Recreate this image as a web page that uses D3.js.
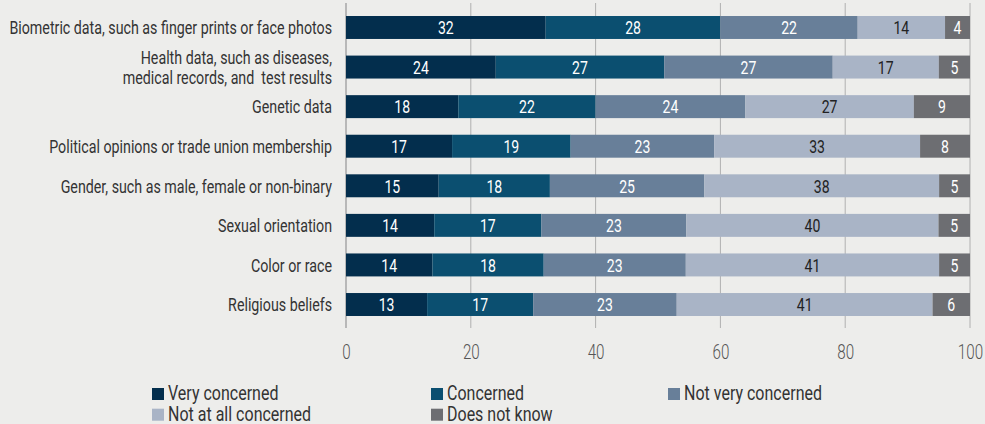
<!DOCTYPE html>
<html><head><meta charset="utf-8">
<script src="https://cdn.jsdelivr.net/npm/d3@7"></script>
<style>
html,body{margin:0;padding:0;background:#ededeb;}
svg{display:block;font-family:Roboto,"DejaVu Sans Condensed",sans-serif;}
</style></head><body>
<svg id="c" width="985" height="424"></svg>
<script>
const categories = [
  "Biometric data, such as finger prints or face photos",
  "Health data, such as diseases,\nmedical records, and  test results",
  "Genetic data",
  "Political opinions or trade union membership",
  "Gender, such as male, female or non-binary",
  "Sexual orientation",
  "Color or race",
  "Religious beliefs"
];
const seriesNames = ["Very concerned","Concerned","Not very concerned","Not at all concerned","Does not know"];
const veryConcerned     = [32,24,18,17,15,14,14,13];
const concerned         = [28,27,22,19,18,17,18,17];
const notVeryConcerned  = [22,27,24,23,25,23,23,23];
const notAtAllConcerned = [14,17,27,33,38,40,41,41];
const doesNotKnow       = [4,5,9,8,5,5,5,6];
const xTicks = [0,20,40,60,80,100];
const colors = ["#032e4d","#0b4f70","#687f99","#a9b4c6","#6d6e72"];
const labelColors = ["#ffffff","#ffffff","#ffffff","#222222","#ffffff"];

const seriesValues = [veryConcerned,concerned,notVeryConcerned,notAtAllConcerned,doesNotKnow];
const rows = categories.map((c,i)=>{
  const r = {category:c};
  seriesNames.forEach((s,j)=>r[s]=seriesValues[j][i]);
  return r;
});

const svg = d3.select("#c");
const x = d3.scaleLinear().domain([0,100]).range([346,970]);
const y = d3.scaleBand().domain(categories).range([7.7,324.3]).paddingInner(0.42).paddingOuter(0.21);

const stack = d3.stack().keys(seriesNames).offset(d3.stackOffsetExpand);
const stacked = stack(rows);

const K_LABEL = 0.75, K_BAR = 0.74, K_TICK = 0.76, K_LEG = 0.785;

// gridlines
svg.append("g").selectAll("line").data(xTicks.filter(t=>t>0)).join("line")
  .attr("x1",d=>x(d)).attr("x2",d=>x(d)).attr("y1",3).attr("y2",328)
  .attr("stroke","#b0b0b0").attr("stroke-width",1);
svg.append("line").attr("x1",x(0)).attr("x2",x(0)).attr("y1",3).attr("y2",328)
  .attr("stroke","#b8b8b8").attr("stroke-width",2);

// bars
const g = svg.append("g");
stacked.forEach((layer,j)=>{
  const lg = g.append("g");
  lg.selectAll("rect").data(layer).join("rect")
    .attr("x",d=>x(d[0]*100)).attr("width",d=>x(d[1]*100)-x(d[0]*100))
    .attr("y",d=>y(d.data.category)).attr("height",y.bandwidth())
    .attr("fill",colors[j]);
  lg.selectAll("g").data(layer).join("g")
    .attr("transform",d=>`translate(${(x(d[0]*100)+x(d[1]*100))/2},${y(d.data.category)+y.bandwidth()/2}) scale(${K_BAR},1)`)
    .append("text")
    .attr("dy","0.36em").attr("text-anchor","middle")
    .attr("font-size",19).attr("fill",labelColors[j])
    .text(d=>d.data[layer.key]);
});

// category labels
const cl = svg.append("g");
categories.forEach(c=>{
  const lines = c.split("\n");
  const cy = y(c)+y.bandwidth()/2;
  const t = cl.append("g").attr("transform",`translate(332,${cy}) scale(${K_LABEL},1)`)
    .append("text").attr("text-anchor","end")
    .attr("font-size",19).attr("fill","#333")
    .style("white-space","pre");
  lines.forEach((ln,k)=>{
    t.append("tspan").attr("x",0)
      .attr("y",(k-(lines.length-1)/2)*20).attr("dy","0.36em").text(ln);
  });
});

// x axis labels
const xa = svg.append("g").attr("transform","translate(0,352)")
  .call(d3.axisBottom(x).tickValues(xTicks).tickSize(0).tickPadding(0));
xa.select(".domain").remove();
xa.selectAll("text").attr("font-size",20).attr("fill","#555").attr("font-weight",300)
  .attr("dy","0.36em").attr("transform",`scale(${K_TICK},1)`)
  .style("font-family","Roboto,'DejaVu Sans Condensed',sans-serif");

// legend
const legendPos = [[152,400],[431,400],[668,400],[152,420.7],[431,420.7]];
const lgd = svg.append("g");
seriesNames.forEach((s,j)=>{
  const [lx,ly] = legendPos[j];
  lgd.append("rect").attr("x",lx).attr("y",ly-12).attr("width",12).attr("height",12).attr("fill",colors[j]);
  lgd.append("g").attr("transform",`translate(${lx+16},${ly}) scale(${K_LEG},1)`)
    .append("text")
    .attr("font-size",20.4).attr("fill","#333").text(s);
});
</script>
</body></html>
